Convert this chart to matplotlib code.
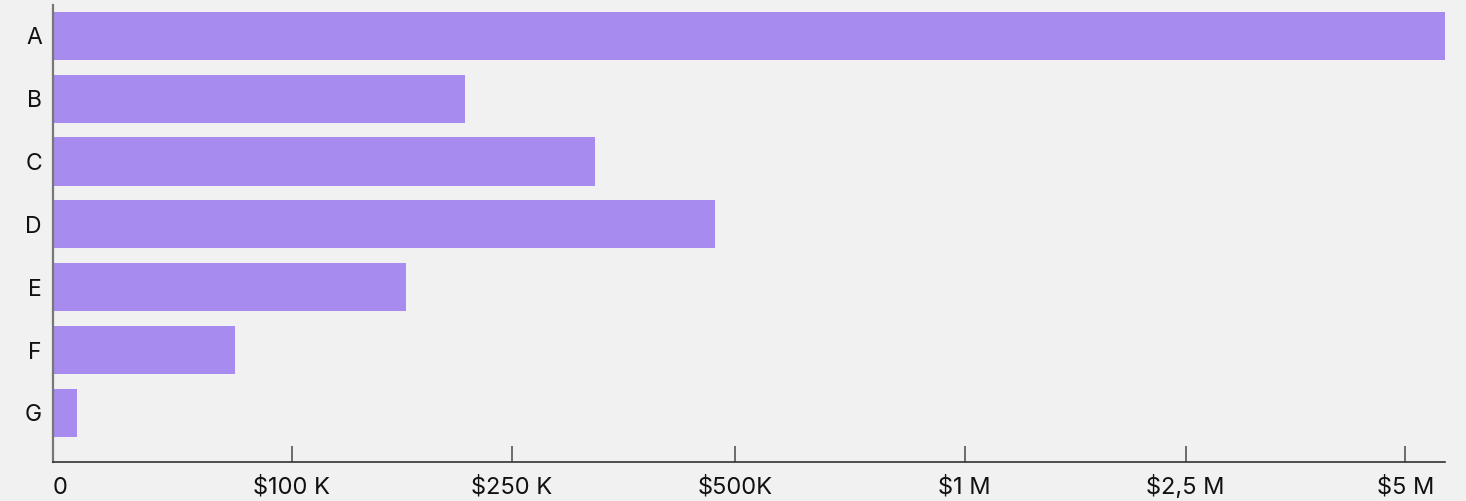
import numpy as np
from matplotlib import pyplot as plt

# data
categories = ["A", "B", "C", "D", "E", "F", "G"]
values = [5.45e6, 218e3, 343e3, 478e3, 178e3, 76e3, 10e3]

tick_values = [0, 100e3, 250e3, 500e3, 1e6, 2.5e6, 5e6]
tick_labels = ["0", "$100 K", "$250 K", "$500K", "$1 M", "$2,5 M", "$5 M"]

# piecewise linear scale (knots of the axis, last one extends the final segment)
scale_knots = np.array(tick_values + [7.5e6])
scale_pos = np.array([0, 239, 459, 682, 912, 1133, 1353, 1573], dtype=float)


def forward(x):
    return np.interp(x, scale_knots, scale_pos)


def inverse(p):
    return np.interp(p, scale_pos, scale_knots)


BG = "#f1f1f1"
BAR = "#a78bef"

plt.rcParams['font.family'] = ['Inter', 'DejaVu Sans']

fig = plt.figure(figsize=(14.66, 5.01), dpi=100, facecolor=BG)
ax = fig.add_axes([53 / 1466, 39 / 501, (1445 - 53) / 1466, (496 - 39) / 501])
ax.set_facecolor(BG)
ax.set_xscale('function', functions=(forward, inverse))

y = np.arange(len(categories))
ax.barh(y, values, height=0.765, color=BAR)

ax.set_xlim(0, values[0])
ax.set_ylim(6.78, -0.49)

ax.set_yticks(y)
ax.set_yticklabels(categories, fontsize=16.5, color="#111111")
ax.tick_params(axis='y', length=0, pad=8)

ax.set_xticks(tick_values)
ax.set_xticklabels(tick_labels, fontsize=17, color="#111111", va='baseline')
ax.xaxis.set_minor_locator(plt.NullLocator())
ax.tick_params(axis='x', direction='in', length=11.5, width=1.2, color="#555555", pad=23)
ax.get_xticklabels()[0].set_horizontalalignment('left')

for side in ['top', 'right']:
    ax.spines[side].set_visible(False)
ax.spines['left'].set_color("#777777")
ax.spines['left'].set_linewidth(1.6)
ax.spines['bottom'].set_color("#333333")
ax.spines['bottom'].set_linewidth(1.2)

fig.savefig("out.png", dpi=100, facecolor=BG)
